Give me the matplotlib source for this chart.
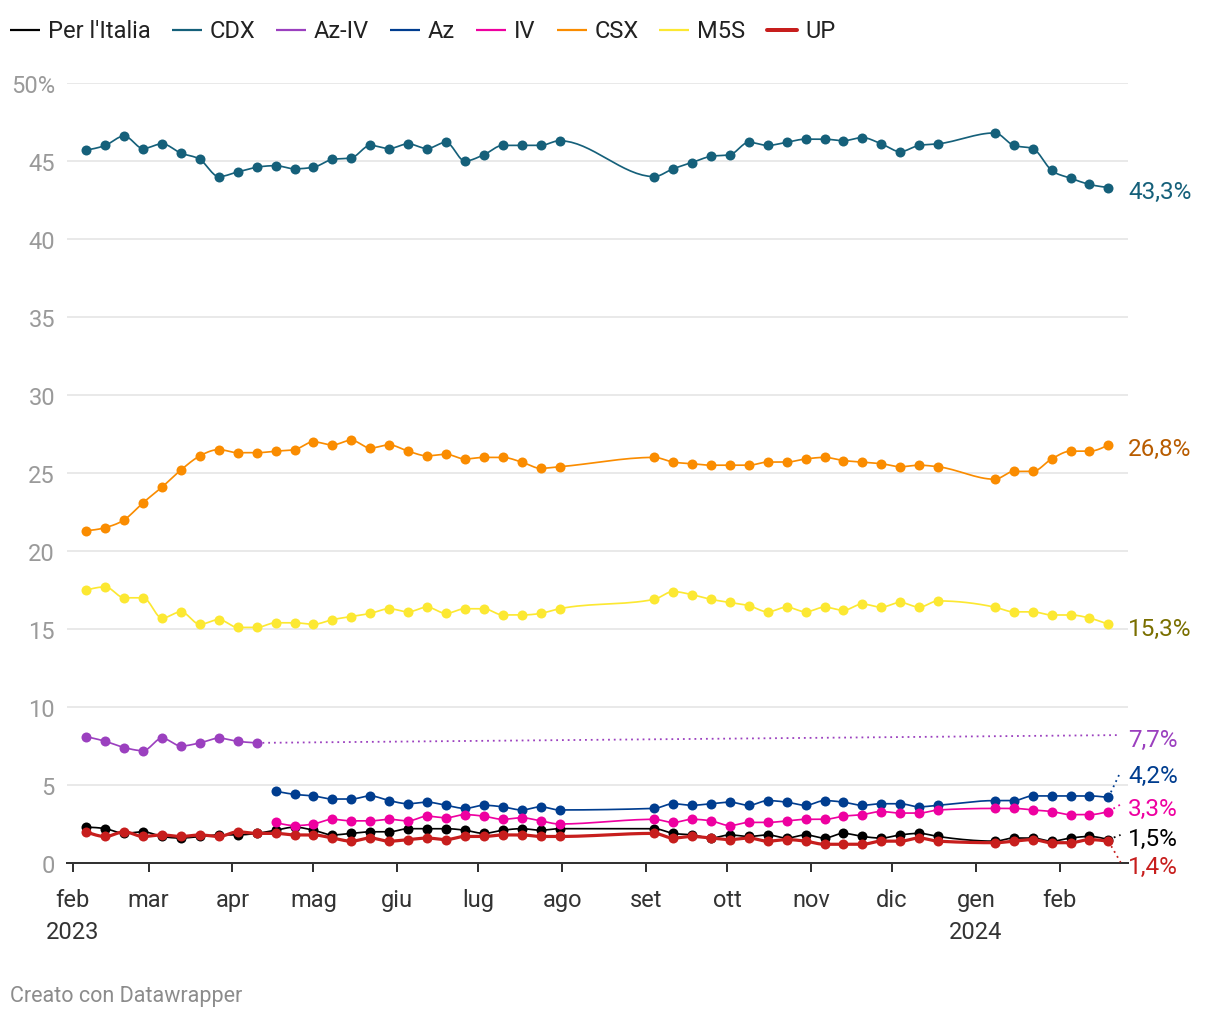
import matplotlib
matplotlib.use("Agg")
import matplotlib.pyplot as plt
import matplotlib.dates as mdates
from matplotlib.lines import Line2D
import numpy as np
import datetime as dt

plt.rcParams['font.family'] = ['Roboto', 'DejaVu Sans']

# ---------------- data ----------------
dates = [
    "2023-02-06", "2023-02-13", "2023-02-20", "2023-02-27", "2023-03-06", "2023-03-13",
    "2023-03-20", "2023-03-27", "2023-04-03", "2023-04-10", "2023-04-17", "2023-04-24",
    "2023-05-01", "2023-05-08", "2023-05-15", "2023-05-22", "2023-05-29", "2023-06-05",
    "2023-06-12", "2023-06-19", "2023-06-26", "2023-07-03", "2023-07-10", "2023-07-17",
    "2023-07-24", "2023-07-31",
    "2023-09-04", "2023-09-11", "2023-09-18", "2023-09-25", "2023-10-02", "2023-10-09",
    "2023-10-16", "2023-10-23", "2023-10-30", "2023-11-06", "2023-11-13", "2023-11-20",
    "2023-11-27", "2023-12-04", "2023-12-11", "2023-12-18",
    "2024-01-08", "2024-01-15", "2024-01-22", "2024-01-29", "2024-02-05", "2024-02-12",
    "2024-02-19",
]

N = None
per_italia = [2.3, 2.2, 1.9, 2.0, 1.7, 1.6, 1.7, 1.8, 1.8, 1.9, 2.1, 2.3, 2.1, 1.8, 1.9, 2.0,
              2.0, 2.2, 2.2, 2.2, 2.1, 1.9, 2.1, 2.2, 2.1, 2.2,
              2.2, 1.9, 1.8, 1.6, 1.8, 1.7, 1.8, 1.6, 1.8, 1.6, 1.9, 1.7, 1.6, 1.8, 1.9, 1.7,
              1.4, 1.6, 1.6, 1.4, 1.6, 1.7, 1.5]
cdx = [45.7, 46.0, 46.6, 45.8, 46.1, 45.5, 45.1, 44.0, 44.3, 44.6, 44.7, 44.5, 44.6, 45.1, 45.2, 46.0,
       45.8, 46.1, 45.8, 46.2, 45.0, 45.4, 46.0, 46.0, 46.0, 46.3,
       44.0, 44.5, 44.9, 45.3, 45.4, 46.2, 46.0, 46.2, 46.4, 46.4, 46.3, 46.5, 46.1, 45.6, 46.0, 46.1,
       46.8, 46.0, 45.8, 44.4, 43.9, 43.5, 43.3]
az_iv = [8.1, 7.8, 7.4, 7.2, 8.0, 7.5, 7.7, 8.0, 7.8, 7.7] + [N] * 39
az = [N] * 10 + [4.6, 4.4, 4.3, 4.1, 4.1, 4.3, 4.0, 3.8, 3.9, 3.7, 3.5, 3.7, 3.6, 3.4, 3.6, 3.4,
                 3.5, 3.8, 3.7, 3.8, 3.9, 3.7, 4.0, 3.9, 3.7, 4.0, 3.9, 3.7, 3.8, 3.8, 3.6, 3.7,
                 4.0, 4.0, 4.3, 4.3, 4.3, 4.3, 4.2]
iv = [N] * 10 + [2.6, 2.4, 2.5, 2.8, 2.7, 2.7, 2.8, 2.7, 3.0, 2.9, 3.1, 3.0, 2.8, 2.9, 2.7, 2.5,
                 2.8, 2.6, 2.8, 2.7, 2.4, 2.6, 2.6, 2.7, 2.8, 2.8, 3.0, 3.1, 3.3, 3.2, 3.2, 3.4,
                 3.5, 3.5, 3.4, 3.3, 3.1, 3.1, 3.3]
csx = [21.3, 21.5, 22.0, 23.1, 24.1, 25.2, 26.1, 26.5, 26.3, 26.3, 26.4, 26.5, 27.0, 26.8, 27.1, 26.6,
       26.8, 26.4, 26.1, 26.2, 25.9, 26.0, 26.0, 25.7, 25.3, 25.4,
       26.0, 25.7, 25.6, 25.5, 25.5, 25.5, 25.7, 25.7, 25.9, 26.0, 25.8, 25.7, 25.6, 25.4, 25.5, 25.4,
       24.6, 25.1, 25.1, 25.9, 26.4, 26.4, 26.8]
m5s = [17.5, 17.7, 17.0, 17.0, 15.7, 16.1, 15.3, 15.6, 15.1, 15.1, 15.4, 15.4, 15.3, 15.6, 15.8, 16.0,
       16.3, 16.1, 16.4, 16.0, 16.3, 16.3, 15.9, 15.9, 16.0, 16.3,
       16.9, 17.4, 17.2, 16.9, 16.7, 16.5, 16.1, 16.4, 16.1, 16.4, 16.2, 16.6, 16.4, 16.7, 16.4, 16.8,
       16.4, 16.1, 16.1, 15.9, 15.9, 15.7, 15.3]
up = [2.0, 1.7, 2.0, 1.7, 1.8, 1.7, 1.8, 1.7, 2.0, 1.9, 1.9, 1.8, 1.8, 1.6, 1.4, 1.6,
      1.4, 1.5, 1.6, 1.5, 1.7, 1.7, 1.8, 1.8, 1.7, 1.7,
      1.9, 1.6, 1.7, 1.6, 1.5, 1.6, 1.4, 1.5, 1.4, 1.2, 1.2, 1.2, 1.4, 1.4, 1.6, 1.4,
      1.3, 1.4, 1.5, 1.3, 1.3, 1.5, 1.4]

series_names = ["Per l'Italia", "CDX", "Az-IV", "Az", "IV", "CSX", "M5S", "UP"]
series_values = [per_italia, cdx, az_iv, az, iv, csx, m5s, up]
series_colors = ["#000000", "#15607a", "#9b40bf", "#003d8f", "#ee00a0", "#fa8c00", "#fce832", "#c71e1d"]
label_colors = ["#000000", "#15607a", "#9b40bf", "#003d8f", "#ee00a0", "#b85c00", "#7a6f00", "#c71e1d"]
label_texts = ["1,5%", "43,3%", "7,7%", "4,2%", "3,3%", "26,8%", "15,3%", "1,4%"]
# vertical anchor of each end label (label layout, displaced to avoid overlaps)
label_anchor = [1.8, 43.3, 8.2, 5.85, 3.75, 26.8, 15.3, 0.05]

month_labels = ["feb\n2023", "mar", "apr", "mag", "giu", "lug", "ago", "set", "ott",
                "nov", "dic", "gen\n2024", "feb"]
y_ticks = [0, 5, 10, 15, 20, 25, 30, 35, 40, 45, 50]
y_ticklabels = ["0", "5", "10", "15", "20", "25", "30", "35", "40", "45", "50%"]


# ---------------- helpers ----------------
def monotone_path(x, y, n=16):
    """d3.curveMonotoneX style path through the points."""
    x = np.asarray(x, float)
    y = np.asarray(y, float)
    if len(x) < 3:
        return x, y
    h = np.diff(x)
    s = np.diff(y) / h
    m = np.zeros_like(y)
    for i in range(1, len(x) - 1):
        s0, s1, h0, h1 = s[i - 1], s[i], h[i - 1], h[i]
        p = (s0 * h1 + s1 * h0) / (h0 + h1)
        m[i] = (np.sign(s0) + np.sign(s1)) * min(abs(s0), abs(s1), 0.5 * abs(p))
    m[0] = (3 * s[0] - m[1]) / 2
    m[-1] = (3 * s[-1] - m[-2]) / 2
    xs, ys = [], []
    t = np.linspace(0, 1, n, endpoint=False)
    for i in range(len(x) - 1):
        dx = h[i]
        p0 = (x[i], y[i])
        p1 = (x[i] + dx / 3, y[i] + dx * m[i] / 3)
        p2 = (x[i + 1] - dx / 3, y[i + 1] - dx * m[i + 1] / 3)
        p3 = (x[i + 1], y[i + 1])
        b0 = (1 - t) ** 3
        b1 = 3 * (1 - t) ** 2 * t
        b2 = 3 * (1 - t) * t ** 2
        b3 = t ** 3
        xs.append(b0 * p0[0] + b1 * p1[0] + b2 * p2[0] + b3 * p3[0])
        ys.append(b0 * p0[1] + b1 * p1[1] + b2 * p2[1] + b3 * p3[1])
    xs.append([x[-1]])
    ys.append([y[-1]])
    return np.concatenate(xs), np.concatenate(ys)


W, H = 1220, 1020
fig = plt.figure(figsize=(W / 100, H / 100), dpi=100)
fig.patch.set_facecolor("white")

AX_L, AX_R, AX_T, AX_B = 67, 1128, 84, 864
ax = fig.add_axes([AX_L / W, 1 - AX_B / H, (AX_R - AX_L) / W, (AX_B - AX_T) / H])

xnum = mdates.date2num([dt.datetime.strptime(d, "%Y-%m-%d") for d in dates])
x_lo = mdates.date2num(dt.datetime(2023, 1, 29, 20))
x_hi = mdates.date2num(dt.datetime(2024, 2, 26, 6))
ax.set_xlim(x_lo, x_hi)
ax.set_ylim(0, 50)

PX = 100 / 72.0
FS = 17
draw_order = [1, 2, 3, 4, 5, 6, 7, 0]
for k in draw_order:
    vals = series_values[k]
    col = series_colors[k]
    xs = np.array([xnum[i] for i, v in enumerate(vals) if v is not None])
    ys = np.array([v for v in vals if v is not None])
    lw = 3.2 / PX if series_names[k] == "UP" else 1.7 / PX
    cx, cy = monotone_path(xs, ys)
    ax.plot(cx, cy, color=col, lw=lw, solid_capstyle="round", solid_joinstyle="round",
            zorder=3 + k * 0.1, clip_on=False)
    ax.plot(xs, ys, linestyle="none", marker="o", ms=10 / PX, mfc=col, mec=col, mew=0,
            zorder=3.05 + k * 0.1, clip_on=False)
    # connector + end label
    x_last, y_last = xs[-1], ys[-1]
    anchor = label_anchor[k]
    if abs(anchor - y_last) > 0.3 or x_last < xnum[-1]:
        x_end = xnum[-1] + 4.5
        ax.plot([x_last, x_end], [y_last, anchor], color=col, lw=1.8 / PX,
                linestyle=(0, (1.0, 2.2)), zorder=2.5, clip_on=False)
    ax.annotate(label_texts[k], xy=(1.0, anchor - 0.25), xycoords=("axes fraction", "data"),
                xytext=(0, 0), textcoords="offset pixels", ha="left", va="center",
                fontsize=17.5, color=label_colors[k], annotation_clip=False)

# axes styling
for sp in ["top", "right", "left"]:
    ax.spines[sp].set_visible(False)
ax.spines["bottom"].set_color("#333333")
ax.spines["bottom"].set_linewidth(2 / PX)
ax.spines["bottom"].set_zorder(2)

ax.set_yticks(y_ticks)
ax.set_yticklabels(y_ticklabels)
ax.tick_params(axis="y", length=0, pad=12 / PX, labelsize=FS, labelcolor="#9a9a9a")
ax.yaxis.grid(True, color="#e3e3e3", lw=1.5 / PX)
ax.set_axisbelow(True)

month_starts = [dt.datetime(2023, m, 1) for m in range(2, 13)] + [dt.datetime(2024, 1, 1), dt.datetime(2024, 2, 1)]
ax.set_xticks(mdates.date2num(month_starts))
ax.set_xticklabels(month_labels)
ax.tick_params(axis="x", length=9 / PX, width=2 / PX, color="#333333", pad=16 / PX,
               labelsize=FS, labelcolor="#333333")
for lab in ax.get_xticklabels():
    lab.set_linespacing(1.5)

# ---------------- legend ----------------
leg_x = [10, 172, 276, 390, 476, 557, 659, 767]
leg_y = 31
for k in range(len(series_names)):
    x0 = leg_x[k]
    lw = 4 / PX if series_names[k] == "UP" else 2.2 / PX
    fig.add_artist(Line2D([x0 / W, (x0 + 30) / W], [1 - leg_y / H, 1 - leg_y / H],
                          color=series_colors[k], lw=lw,
                          solid_capstyle="round" if series_names[k] == "UP" else "butt",
                          transform=fig.transFigure))
    fig.text((x0 + 38) / W, 1 - leg_y / H, series_names[k], ha="left", va="center",
             fontsize=FS, color="#222222")

fig.text(10 / W, 1 - 997 / H, "Creato con Datawrapper", ha="left", va="center",
         fontsize=15.5, color="#8c8c8c")

fig.savefig("out.png", dpi=100, facecolor="white")
